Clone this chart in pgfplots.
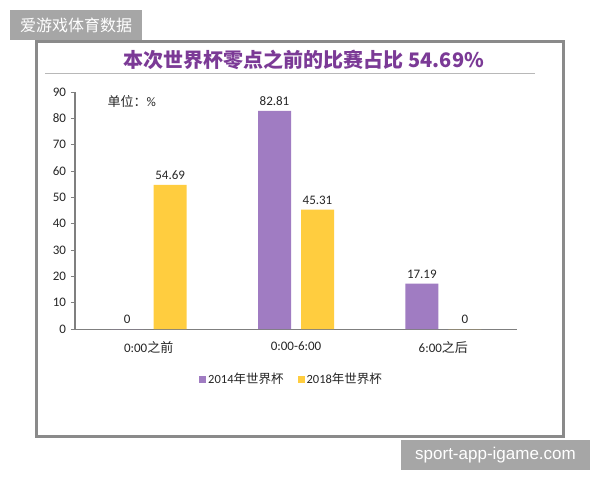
\documentclass[border=0pt]{standalone}
\usepackage{fontspec}
\usepackage{pgfplots}
\pgfplotsset{compat=1.18}
\setmainfont{Carlito}
\newfontfamily\cjk{Noto Sans CJK SC}
\newfontfamily\wm{Liberation Sans}
\definecolor{barA}{HTML}{A07CC2}
\definecolor{barB}{HTML}{FFCD3F}
\definecolor{ttl}{HTML}{7B3A96}
\definecolor{frm}{HTML}{8A8A8A}
\definecolor{tag}{HTML}{A6A6A6}
\definecolor{axl}{HTML}{7F7F7F}
\definecolor{txt}{HTML}{262626}

\begin{document}
\begin{tikzpicture}[x=1pt,y=1pt]
\fill[white] (0,0) rectangle (600,480);
% panel frame
\draw[frm, line width=3pt] (36.5,43.5) rectangle (563.5,438.5);
% title and rule
\node[ttl, font=\cjk\bfseries\fontsize{20}{20}\selectfont] at (304,420) {本次世界杯零点之前的比赛占比 54.69\%};
\draw[black!28, line width=1pt] (45,406) -- (535,406);
% unit note
\node[txt, font=\fontsize{13}{13}\selectfont, anchor=west] at (104,378) {{\cjk 单位：}\%};

\begin{axis}[
  at={(75pt,151pt)}, anchor=south west,
  scale only axis, width=442pt, height=237pt,
  xmin=-0.5, xmax=2.5, ymin=0, ymax=90,
  ybar=10pt, bar width=33pt,
  axis x line*=bottom, axis y line*=left,
  axis line style={axl, line width=1pt},
  xtick={0,1,2},
  xticklabels={{0:00{\cjk 之前}},{0:00-6:00},{6:00{\cjk 之后}}},
  ytick={0,10,...,90},
  tick align=outside, major tick length=4pt,
  major x tick style={draw=none},
  major y tick style={axl, line width=0.8pt},
  ticklabel style={font=\fontsize{13}{13}\selectfont, text=txt},
  xticklabel style={yshift=-5pt},
  yticklabel style={xshift=-1.5pt},
  /pgf/number format/assume math mode=true,
  nodes near coords={\pgfmathprintnumber[fixed,precision=2]{\pgfplotspointmeta}},
  every node near coord/.append style={font=\fontsize{13}{13}\selectfont, text=txt, yshift=2pt},
  legend style={at={(0.49,-0.211)}, anchor=center, draw=none, fill=none,
    legend columns=2, font=\fontsize{12.5}{12.5}\selectfont, text=txt,
    /tikz/every even column/.append style={column sep=12pt}},
  legend image code/.code={\fill[#1] (0pt,-3.5pt) rectangle (7pt,3.5pt);},
]
\addplot[fill=barA, draw=none] coordinates {(0,0) (1,82.81) (2,17.19)};
\addplot[fill=barB, draw=none] coordinates {(0,54.69) (1,45.31) (2,0)};
\legend{{2014{\cjk 年世界杯}},{2018{\cjk 年世界杯}}}
\end{axis}

% corner tag
\fill[tag] (10,440) rectangle (142,470);
\node[white, font=\cjk\fontsize{16}{16}\selectfont] at (76,455) {爱游戏体育数据};
% site tag
\fill[tag] (401,10) rectangle (590,40);
\node[white, font=\wm\fontsize{17}{17}\selectfont] at (495.5,25) {sport-app-igame.com};
\end{tikzpicture}
\end{document}
